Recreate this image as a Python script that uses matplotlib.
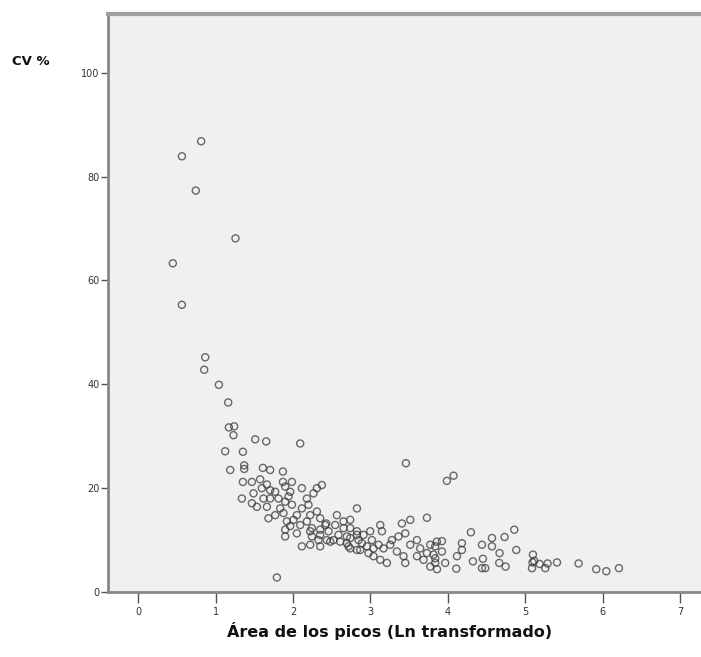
import matplotlib
matplotlib.use("Agg")
import matplotlib.pyplot as plt

# Peak area (Ln transformed) vs coefficient of variation (%)
area_ln = [
    0.814, 0.565, 0.745, 1.257, 0.448, 0.565, 0.866, 0.853, 1.043, 1.163,
    1.172, 1.240, 1.231, 1.124, 1.353, 1.189, 1.370, 1.370, 1.512, 1.654,
    2.093, 1.611, 1.705, 1.870, 1.353, 1.469, 1.576, 1.663, 1.598, 1.705,
    1.770, 1.870, 1.899, 1.986, 1.964, 1.942, 2.115, 2.309, 2.373, 2.265,
    1.490, 1.469, 1.534, 1.619, 1.705, 1.663, 1.813, 1.835, 1.899, 1.986,
    2.180, 2.200, 2.115, 2.050, 2.222, 2.309, 2.351, 1.683, 1.770, 1.877,
    1.921, 2.006, 2.093, 2.180, 2.244, 2.351, 2.416, 1.899, 2.050, 2.222,
    2.351, 1.899, 2.115, 2.222, 2.351, 2.567, 2.739, 2.826, 2.429, 2.545,
    2.653, 2.459, 2.588, 2.481, 2.610, 2.739, 2.826, 2.846, 2.329, 2.438,
    2.739, 2.826, 2.696, 1.792, 2.739, 2.696, 2.523, 2.717, 2.826, 2.911,
    2.890, 2.868, 2.997, 3.019, 3.127, 3.149, 3.105, 2.975, 3.040, 3.127,
    3.213, 3.169, 3.256, 3.278, 3.363, 3.407, 3.514, 3.450, 3.514, 3.342,
    3.428, 3.450, 3.601, 3.643, 3.601, 3.686, 3.773, 3.859, 3.815, 3.837,
    3.773, 3.730, 3.459, 3.988, 4.074, 4.298, 4.570, 4.733, 4.858, 4.441,
    4.570, 4.668, 4.884, 4.182, 4.182, 4.118, 3.924, 3.837, 3.924, 3.837,
    3.860, 3.730, 3.966, 4.109, 4.324, 4.453, 4.441, 4.483, 4.664, 4.746,
    5.099, 5.094, 5.116, 5.087, 5.185, 5.258, 5.288, 5.410, 5.689, 5.917,
    6.047, 6.210, 1.340, 1.964, 2.244, 2.653, 2.955, 3.040,
]
cv_pct = [
    86.8, 83.9, 77.3, 68.1, 63.3, 55.3, 45.2, 42.8, 39.9, 36.5,
    31.7, 31.9, 30.2, 27.1, 27.0, 23.5, 24.4, 23.7, 29.4, 29.0,
    28.6, 23.9, 23.5, 23.2, 21.2, 21.2, 21.7, 20.7, 20.0, 19.6,
    19.3, 21.2, 20.3, 21.2, 19.3, 18.4, 20.0, 20.0, 20.6, 19.0,
    19.0, 17.1, 16.4, 18.0, 18.0, 16.4, 18.0, 16.1, 17.4, 16.8,
    18.0, 16.8, 16.1, 14.8, 14.8, 15.5, 14.2, 14.2, 14.8, 15.2,
    13.6, 13.9, 12.9, 13.6, 12.3, 12.0, 12.9, 12.0, 11.3, 11.7,
    11.0, 10.7, 8.8, 9.1, 8.8, 14.8, 13.9, 16.1, 13.2, 12.9,
    12.3, 11.7, 11.0, 9.7, 9.7, 10.4, 11.0, 10.0, 10.0, 10.0,
    8.4, 8.1, 9.4, 2.8, 12.3, 10.7, 10.0, 8.8, 11.7, 11.0,
    9.4, 8.1, 11.7, 10.0, 12.9, 11.7, 9.1, 7.5, 6.9, 6.2,
    5.6, 8.4, 9.1, 10.0, 10.7, 13.2, 13.9, 11.3, 9.1, 7.8,
    6.9, 5.6, 10.0, 8.4, 6.9, 6.2, 9.1, 9.7, 7.2, 5.6,
    4.9, 14.3, 24.8, 21.4, 22.4, 11.5, 10.4, 10.6, 12.0, 9.1,
    8.8, 7.5, 8.1, 9.4, 8.1, 6.9, 9.8, 8.8, 7.8, 6.5,
    4.4, 7.5, 5.6, 4.5, 5.9, 6.4, 4.6, 4.6, 5.6, 4.9,
    7.2, 5.7, 6.0, 4.6, 5.4, 4.6, 5.5, 5.7, 5.5, 4.4,
    4.0, 4.6, 18.0, 12.7, 10.7, 13.6, 8.8, 8.4,
]
x_ticks = [0, 1, 2, 3, 4, 5, 6, 7]
y_ticks = [0, 20, 40, 60, 80, 100]

fig = plt.figure(figsize=(7.01, 6.57), dpi=100)
ax = fig.add_axes([0.154, 0.0989, 0.846, 0.8798])
ax.set_facecolor("#f0f0f0")

ax.scatter(area_ln, cv_pct, s=26, facecolors="none", edgecolors="#3a3a3a",
           linewidths=1.0, alpha=0.75, zorder=3)

ax.set_xlim(-0.39, 7.27)
ax.set_ylim(0, 111.3)
ax.set_xticks(x_ticks)
ax.set_yticks(y_ticks)

tick_font = ["Liberation Sans Narrow", "DejaVu Sans"]
ax.set_xticklabels([str(t) for t in x_ticks], fontsize=7, color="#333333",
                   family=tick_font)
ax.set_yticklabels([str(t) for t in y_ticks], fontsize=7, color="#333333",
                   family=tick_font)
ax.tick_params(axis="x", direction="out", length=8, width=1.0, color="#555555",
               pad=3)
ax.tick_params(axis="y", direction="out", length=5, width=1.0, color="#555555",
               pad=1)

for side in ("left", "bottom"):
    ax.spines[side].set_color("#888888")
    ax.spines[side].set_linewidth(2.0)
ax.spines["top"].set_color("#a0a0a0")
ax.spines["top"].set_linewidth(3.0)
ax.spines["right"].set_visible(False)

fig.text(0.556, 0.040, "Área de los picos (Ln transformado)", ha="center",
         va="center", fontsize=11.5, fontweight="bold", color="#111111")
fig.text(0.017, 0.907, "CV %", ha="left", va="center", fontsize=9.5,
         fontweight="bold", color="#111111")

fig.savefig("out.png", dpi=100, facecolor="white")
